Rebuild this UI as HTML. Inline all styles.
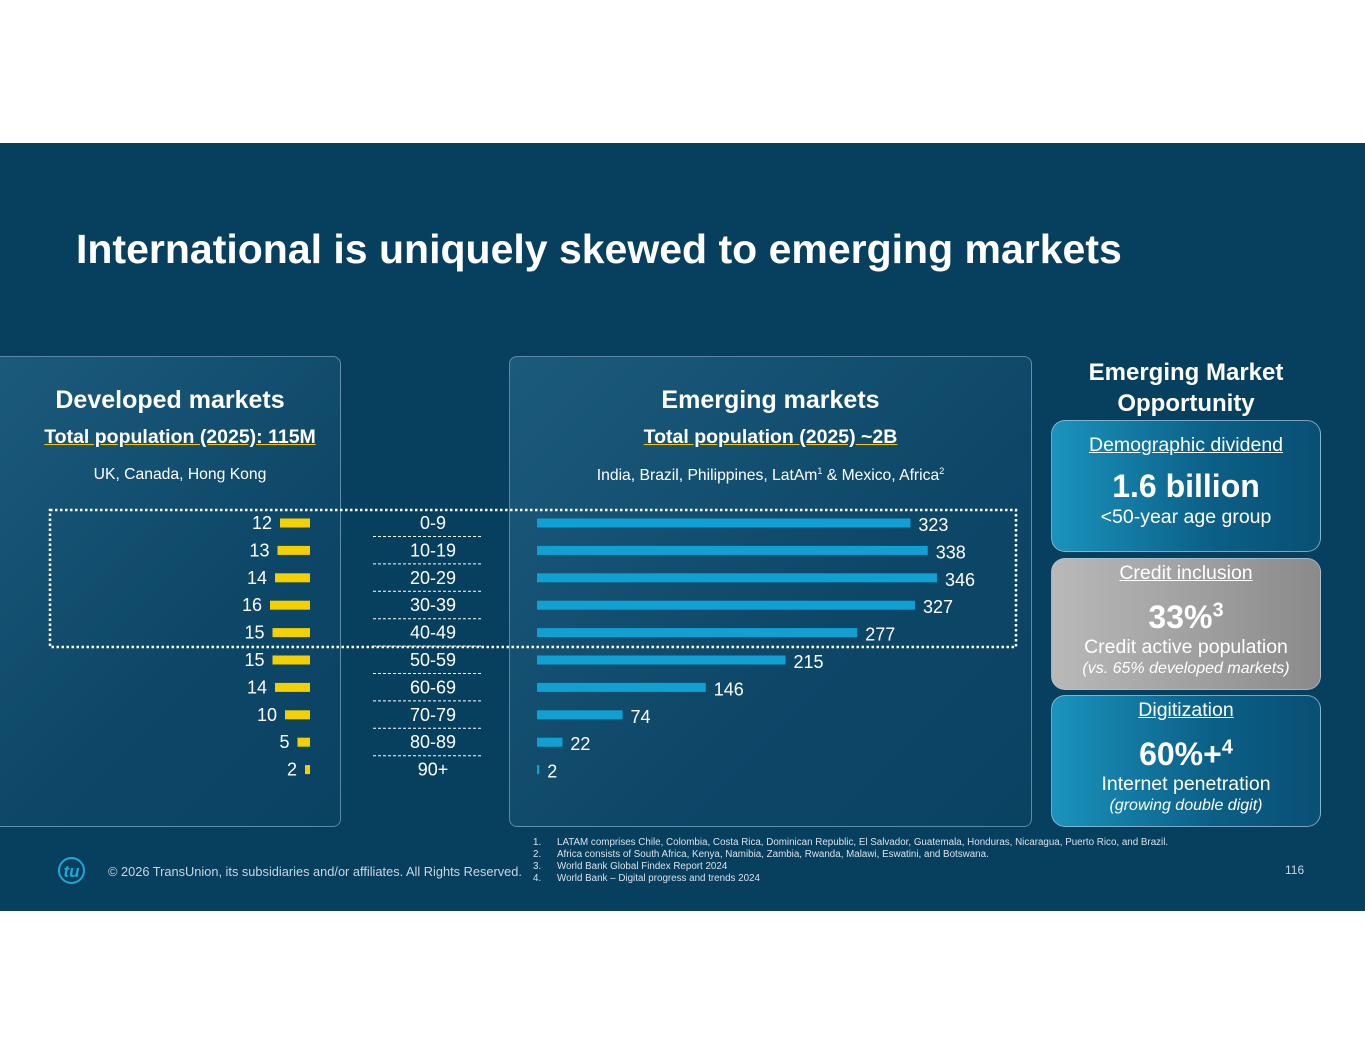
<!DOCTYPE html>
<html><head><meta charset="utf-8"><style>
body{margin:0;width:1365px;height:1055px;background:#fff;font-family:"Liberation Sans",Arial,sans-serif;position:relative;overflow:hidden}
.abs{position:absolute}
#slide{position:absolute;left:0;top:143px;width:1365px;height:768px;background:#073f5f}
.panel{position:absolute;border:1.5px solid rgba(160,190,210,.55);border-radius:8px;background:linear-gradient(135deg,#1c5a7b 0%,#0d4768 60%,#0a4262 100%)}
.card{position:absolute;left:1051px;width:268px;border:1.5px solid rgba(170,200,220,.7);border-radius:14px;color:#fff;text-align:center}
.w{color:#fff}
</style></head><body>
<div id="slide"></div>
<div class="abs w" style="left:76px;top:226px;font-size:41px;font-weight:bold">International is uniquely skewed to emerging markets</div>

<div class="panel" style="left:-10px;top:356px;width:349px;height:469px"></div>
<div class="panel" style="left:509px;top:356px;width:521px;height:469px"></div>

<div class="abs w" style="left:0;width:340px;top:386px;text-align:center;font-size:25px;font-weight:bold">Developed markets</div>
<div class="abs w" style="left:0;width:360px;top:426px;text-align:center;font-size:19.5px;font-weight:bold;text-decoration:underline;text-decoration-color:#f5c400">Total population (2025): 115M</div>
<div class="abs w" style="left:0;width:360px;top:466px;text-align:center;font-size:15.7px">UK, Canada, Hong Kong</div>

<div class="abs w" style="left:509px;width:523px;top:386px;text-align:center;font-size:25px;font-weight:bold">Emerging markets</div>
<div class="abs w" style="left:509px;width:523px;top:426px;text-align:center;font-size:19.5px;font-weight:bold;text-decoration:underline;text-decoration-color:#f5c400">Total population (2025) ~2B</div>
<div class="abs w" style="left:509px;width:523px;top:466px;text-align:center;font-size:15.7px">India, Brazil, Philippines, LatAm<sup style="font-size:9px">1</sup> &amp; Mexico, Africa<sup style="font-size:9px">2</sup></div>

<div class="abs w" style="left:1051px;width:270px;top:357px;text-align:center;font-size:24px;font-weight:bold;line-height:31px">Emerging Market<br>Opportunity</div>

<div class="card" style="top:420px;height:130px;background:linear-gradient(90deg,#1a93bd,#0b5f86 60%,#0a4f74)">
<div style="margin-top:13px;font-size:19.5px;text-decoration:underline">Demographic dividend</div>
<div style="margin-top:11px;font-size:32px;font-weight:bold">1.6 billion</div>
<div style="font-size:19.5px;margin-top:1px">&lt;50-year age group</div></div>
<div class="card" style="top:558px;height:130px;background:linear-gradient(90deg,#b9b9b9,#8a8a8a)">
<div style="margin-top:3px;font-size:19.5px;text-decoration:underline">Credit inclusion</div>
<div style="margin-top:14px;font-size:32px;font-weight:bold">33%<sup style="font-size:20px">3</sup></div>
<div style="font-size:19.5px;margin-top:0">Credit active population</div>
<div style="font-size:16px;font-style:italic;margin-top:1px">(vs. 65% developed markets)</div></div>
<div class="card" style="top:695px;height:130px;background:linear-gradient(90deg,#1a93bd,#0b5f86 60%,#0a4f74)">
<div style="margin-top:3px;font-size:19.5px;text-decoration:underline">Digitization</div>
<div style="margin-top:14px;font-size:32px;font-weight:bold">60%+<sup style="font-size:20px">4</sup></div>
<div style="font-size:19.5px;margin-top:0">Internet penetration</div>
<div style="font-size:16px;font-style:italic;margin-top:1px">(growing double digit)</div></div>

<svg id="chart" class="abs" style="left:0;top:0" width="1365" height="1055"></svg>

<div class="abs" style="left:58px;top:857px;width:27px;height:27px;border:2px solid #1fa7d6;border-radius:50%;color:#1fa7d6;font-style:italic;font-weight:bold;font-size:17px;text-align:center;line-height:26px;box-sizing:border-box">tu</div>
<div class="abs" style="left:108px;top:864px;font-size:12.8px;color:#c8d6e0">© 2026 TransUnion, its subsidiaries and/or affiliates. All Rights Reserved.</div>
<div class="abs" style="left:533px;top:837px;font-size:9.8px;color:#d8e2ea;line-height:12px">
<div><span style="display:inline-block;width:24px">1.</span>LATAM comprises Chile, Colombia, Costa Rica, Dominican Republic, El Salvador, Guatemala, Honduras, Nicaragua, Puerto Rico, and Brazil.</div>
<div><span style="display:inline-block;width:24px">2.</span>Africa consists of South Africa, Kenya, Namibia, Zambia, Rwanda, Malawi, Eswatini, and Botswana.</div>
<div><span style="display:inline-block;width:24px">3.</span>World Bank Global Findex Report 2024</div>
<div><span style="display:inline-block;width:24px">4.</span>World Bank – Digital progress and trends 2024</div></div>
<div class="abs" style="left:1285px;top:863px;font-size:12px;color:#c8d6e0">116</div>

<script>
const ageGroups=["0-9","10-19","20-29","30-39","40-49","50-59","60-69","70-79","80-89","90+"];
const developedValues=[12,13,14,16,15,15,14,10,5,2];
const emergingValues=[323,338,346,327,277,215,146,74,22,2];
const svg=document.getElementById('chart');
const NS='http://www.w3.org/2000/svg';
const rowY=i=>523+i*27.4;
const emX=v=>v*1.156;
const devX=v=>v*2.5;
function mk(tag,attrs,txt){const e=document.createElementNS(NS,tag);for(const k in attrs)e.setAttribute(k,attrs[k]);if(txt!=null)e.textContent=txt;svg.appendChild(e);return e;}
const box=mk('rect',{x:50,y:510,width:966,height:137,fill:'none',stroke:'#fff','stroke-width':2.5,'stroke-dasharray':'2.5 2.5'});


ageGroups.forEach((g,i)=>{
  const y=rowY(i);
  const t=mk('text',{x:433,y:y+6,'text-anchor':'middle',fill:'#fff','font-size':18,'font-family':'Liberation Sans, sans-serif'},g);
  
  
  if(i<ageGroups.length-1){
    const l=mk('line',{x1:373,x2:483,y1:y+13.5,y2:y+13.5,stroke:'#fff','stroke-width':1,'stroke-dasharray':'3 2'});
    
    
  }
  const dw=devX(developedValues[i]);
  const db=mk('rect',{x:310-dw,y:y-4.5,width:dw,height:9,fill:'#f5d000'});
  
  
  const dl=mk('text',{x:310-dw-8,y:y+6,'text-anchor':'end',fill:'#fff','font-size':18,'font-family':'Liberation Sans, sans-serif'},developedValues[i]);
  
  
  const ew=emX(emergingValues[i]);
  const eb=mk('rect',{x:537,y:y-4.5,width:Math.max(ew,2),height:9,fill:'#10a0d2'});
  
  
  const el=mk('text',{x:537+ew+8,y:y+8,fill:'#fff','font-size':18,'font-family':'Liberation Sans, sans-serif'},emergingValues[i]);
  
  
});
</script>
</body></html>
